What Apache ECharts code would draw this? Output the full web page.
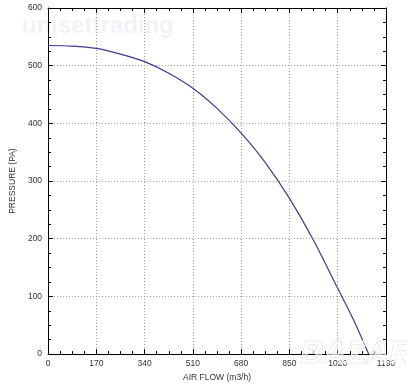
<!DOCTYPE html>
<html><head><meta charset="utf-8">
<script src="https://cdn.jsdelivr.net/npm/echarts@6/dist/echarts.min.js"></script>
<style>html,body{margin:0;padding:0;background:#fff}#c{width:407px;height:387px}</style>
</head><body><div id="c"></div>
<script>
const airFlow = [0, 85, 170, 255, 340, 425, 510, 595, 680, 765, 850, 935, 1020, 1075, 1129];
const pressure = [535, 534, 530, 520, 507, 487, 461, 426, 383, 332, 270, 197, 114, 60, 0];
const xTicks = [0, 170, 340, 510, 680, 850, 1020, 1190];
const yTicks = [0, 100, 200, 300, 400, 500, 600];
const xName = 'AIR FLOW (m3/h)';
const yName = 'PRESSURE (PA)';

const font = 'Liberation Sans, Arial, sans-serif';
const chart = echarts.init(document.getElementById('c'), null, {renderer: 'canvas'});
const points = airFlow.map((x, i) => [x, pressure[i]]);
const splitStyle = {show: true, lineStyle: {color: '#9a9a9a', type: [1, 2], width: 1}};
const tickIn = {show: true, inside: true, length: 5, lineStyle: {color: '#000'}};
const minorIn = {show: true, splitNumber: 4, length: 3, lineStyle: {color: '#000'}};
chart.setOption({
  animation: false,
  backgroundColor: '#fff',
  grid: {left: 43, right: 21, top: 8, bottom: 31, containLabel: false},
  graphic: [
    {type: 'text', left: 22, top: 14, z: -10, silent: true,
     style: {text: 'unisettrading', font: 'bold 24px ' + font, fill: '#f1f2f6'}},
    {type: 'text', left: 300, top: 338, z: 100, silent: true,
     style: {text: 'BAZAR', font: 'italic bold 32px ' + font, fill: 'rgba(255,255,255,0.5)', stroke: '#e4e4e4', lineWidth: 1}}
  ],
  xAxis: [
    {type: 'value', min: 0, max: 1190, interval: 170, position: 'bottom',
     name: xName, nameLocation: 'middle', nameGap: 15,
     nameTextStyle: {color: '#333', fontSize: 8.5, fontFamily: font},
     axisLine: {show: true, onZero: false, lineStyle: {color: '#000', width: 1}},
     axisTick: tickIn, minorTick: minorIn, splitLine: splitStyle,
     axisLabel: {color: '#333', fontSize: 8.5, fontFamily: font, margin: 5,
       formatter: v => xTicks.includes(v) ? String(v) : ''}},
    {type: 'value', min: 0, max: 1190, interval: 170, position: 'top',
     axisLine: {show: true, onZero: false, lineStyle: {color: '#000', width: 1}},
     axisTick: tickIn, minorTick: minorIn, splitLine: {show: false}, axisLabel: {show: false}}
  ],
  yAxis: [
    {type: 'value', min: 0, max: 600, interval: 100, position: 'left',
     name: yName, nameLocation: 'middle', nameGap: 22, nameRotate: 90,
     nameTextStyle: {color: '#333', fontSize: 8.5, fontFamily: font},
     axisLine: {show: true, onZero: false, lineStyle: {color: '#000', width: 1}},
     axisTick: tickIn, minorTick: minorIn, splitLine: splitStyle,
     axisLabel: {color: '#333', fontSize: 8.5, fontFamily: font, margin: 6,
       formatter: v => yTicks.includes(v) ? String(v) : ''}},
    {type: 'value', min: 0, max: 600, interval: 100, position: 'right',
     axisLine: {show: true, onZero: false, lineStyle: {color: '#000', width: 1}},
     axisTick: tickIn, minorTick: minorIn, splitLine: {show: false}, axisLabel: {show: false}}
  ],
  series: [{
    type: 'line', data: points, smooth: 0.3, showSymbol: false, symbol: 'none',
    xAxisIndex: 0, yAxisIndex: 0,
    lineStyle: {color: '#3b3b8f', width: 1.2}, z: 5
  }]
});
</script></body></html>
